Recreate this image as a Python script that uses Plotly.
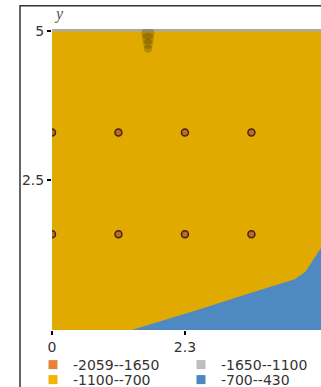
import plotly.graph_objects as go

# ---- data ----
legend_labels = ["-2059--1650", "-1650--1100", "-1100--700", "-700--430"]
legend_colors = ["#E8803C", "#BDBDBD", "#F2B400", "#4C87C2"]
legend_ids = ["legend", "legend2", "legend3", "legend4"]

field_x = [0, 4.654, 4.654, 0]
field_y = [0, 0, 5.03, 5.03]

blue_x = [1.38, 2.5, 3.6, 4.2, 4.38, 4.5, 4.654, 4.654]
blue_y = [0.0, 0.33, 0.67, 0.85, 0.97, 1.14, 1.37, 0.0]

top_x = [0, 4.654, 4.654, 0]
top_y = [4.99, 4.99, 5.03, 5.03]

dot_x = [0, 1.15, 2.3, 3.45, 0, 1.15, 2.3, 3.45]
dot_y = [3.3, 3.3, 3.3, 3.3, 1.6, 1.6, 1.6, 1.6]

blob_x = [1.66, 1.66, 1.66, 1.66]
blob_y = [4.96, 4.87, 4.78, 4.70]

x_ticks = [0, 2.3]
x_ticklabels = ["0", "2.3"]
y_ticks = [2.5, 5]
y_ticklabels = ["2.5", "5"]

fig = go.Figure()

fig.add_trace(go.Scatter(x=field_x, y=field_y, fill="toself", fillcolor="#E0AA00",
                         mode="lines", line=dict(width=0), showlegend=False, hoverinfo="skip"))
fig.add_trace(go.Scatter(x=blue_x, y=blue_y, fill="toself", fillcolor="#4F89C1",
                         mode="lines", line=dict(width=0), showlegend=False, hoverinfo="skip"))
fig.add_trace(go.Scatter(x=top_x, y=top_y, fill="toself", fillcolor="#A9A9A0",
                         mode="lines", line=dict(width=0), showlegend=False, hoverinfo="skip"))
fig.add_trace(go.Scatter(x=blob_x, y=blob_y, mode="markers",
                         marker=dict(size=[13, 12, 10, 8], color="rgba(45,30,0,0.32)", line=dict(width=0)),
                         showlegend=False, hoverinfo="skip"))
fig.add_trace(go.Scatter(x=dot_x, y=dot_y, mode="markers",
                         marker=dict(size=7, color="#C8642C", line=dict(width=1.5, color="#3A2A10")),
                         showlegend=False, cliponaxis=True))

for lab, col, lg in zip(legend_labels, legend_colors, legend_ids):
    fig.add_trace(go.Scatter(x=[None], y=[None], mode="markers", name=lab, legend=lg,
                             marker=dict(symbol="square", size=9, color=col)))

fig.add_shape(type="rect", xref="paper", yref="paper", x0=-0.119, x1=1.2, y0=-0.4, y1=1.077,
              line=dict(color="#333333", width=1.5), fillcolor="rgba(0,0,0,0)", layer="above")

fig.add_annotation(text="y", xref="paper", yref="paper", x=0.0, y=1.05, showarrow=False,
                   xanchor="left", yanchor="middle",
                   font=dict(family="Liberation Serif", size=16, color="#555555", style="italic"))

leg_common = dict(orientation="v", xref="container", yref="container", xanchor="left",
                  yanchor="top", font=dict(family="DejaVu Sans", size=14, color="#333333"),
                  itemwidth=30, tracegroupgap=0, bgcolor="rgba(0,0,0,0)")

col_x = [33, 181, 33, 181]
row_top = [349, 349, 364, 364]

fig.update_layout(
    width=321, height=387,
    margin=dict(l=52, r=0, t=29, b=57, autoexpand=False),
    paper_bgcolor="white", plot_bgcolor="white",
    font=dict(family="DejaVu Sans", size=14, color="#333333"),
    showlegend=True,
    xaxis=dict(range=[0, 4.654], tickvals=x_ticks, ticktext=x_ticklabels, showgrid=False,
               zeroline=False, showline=False, ticks="outside", ticklen=4, tickwidth=2,
               tickcolor="black", fixedrange=True),
    yaxis=dict(range=[0, 5.03], tickvals=y_ticks, ticktext=y_ticklabels, showgrid=False,
               zeroline=False, showline=False, ticks="outside", ticklen=4, tickwidth=2,
               tickcolor="black", fixedrange=True),
)
for lg, cx, ry in zip(legend_ids, col_x, row_top):
    fig.update_layout({lg: dict(x=cx / 321, y=(387 - ry) / 387, **leg_common)})

fig.write_html("out.html", config={"displayModeBar": False},
               post_script="document.body.style.margin='0';document.body.style.overflow='hidden';")
